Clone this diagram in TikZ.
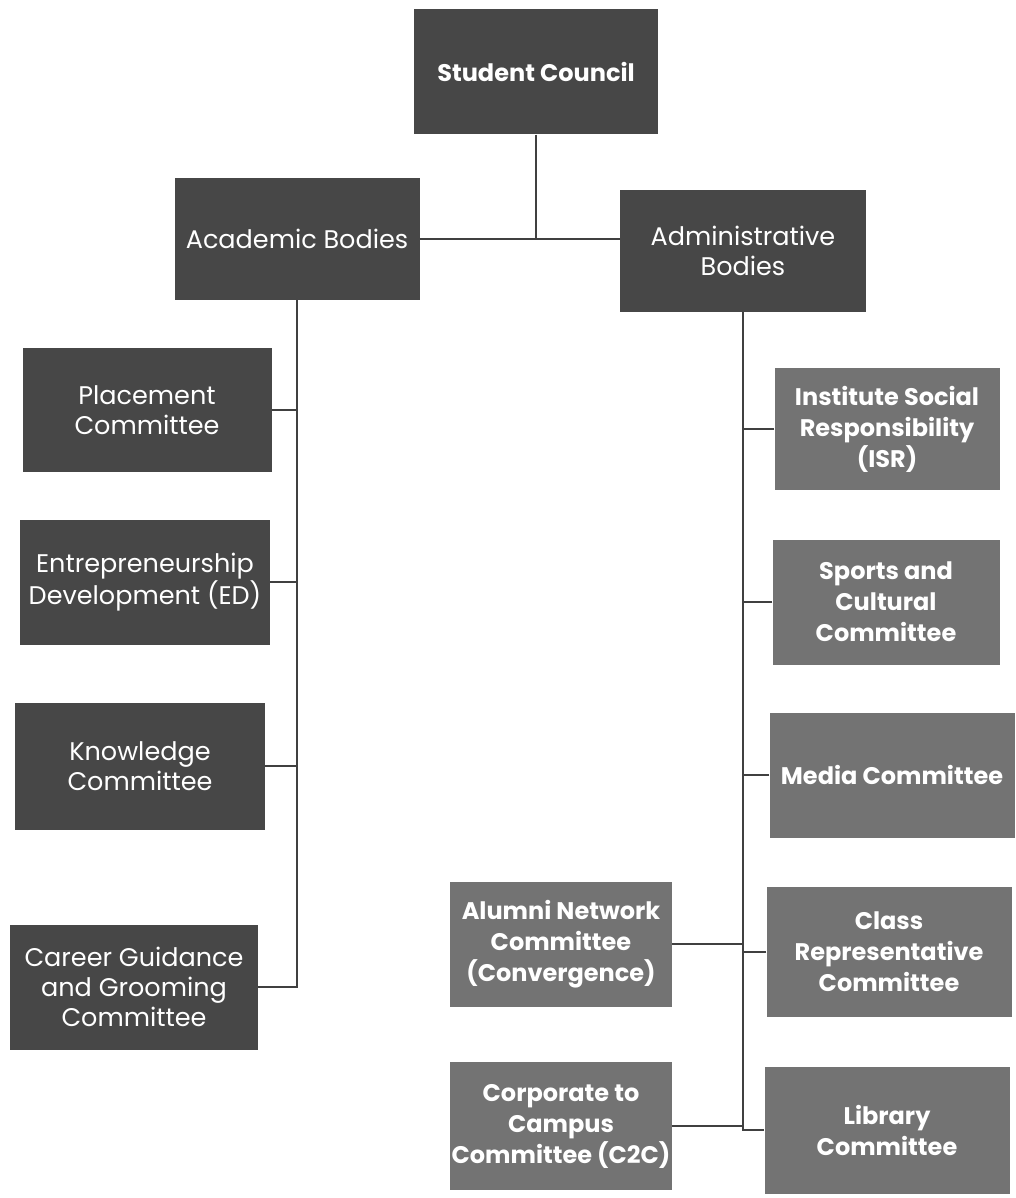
\documentclass[tikz,border=0pt]{standalone}
\usepackage{fontspec}
\setmainfont{Poppins}
\definecolor{darkbox}{HTML}{474747}
\definecolor{midbox}{HTML}{737373}
\tikzset{
  box/.style={rectangle,fill=darkbox,text=white,align=center,inner sep=1pt,
    font=\fontsize{25.5}{30}\selectfont},
  boldbox/.style={box,font=\fontsize{24}{31}\selectfont\bfseries},
  subbox/.style={boldbox,fill=midbox},
  link/.style={draw=black!75,line width=1.3pt}
}
\begin{document}
\begin{tikzpicture}[x=1pt,y=-1pt]
\useasboundingbox (0,0) rectangle (1016,1198);
% top levels
\node (council) at (536,72)[boldbox,minimum width=244pt,minimum height=125pt]{Student Council};
\node (acad) at (297,239)[box,minimum width=245pt,minimum height=122pt]{Academic Bodies};
\node (admin) at (743,251)[box,minimum width=246pt,minimum height=122pt]{Administrative\\Bodies};

% academic side
\node (place) at (147,410)[box,minimum width=249pt,minimum height=124pt]{Placement\\Committee};
\node (entre) at (145,582)[box,minimum width=250pt,minimum height=125pt]{Entrepreneurship\\Development (ED)};
\node (know) at (140,766)[box,minimum width=250pt,minimum height=127pt]{Knowledge\\Committee};
\node (career) at (134,987)[box,minimum width=248pt,minimum height=125pt]{Career Guidance\\and Grooming\\Committee};

% administrative side
\node (isr) at (887,429)[subbox,minimum width=225pt,minimum height=122pt]{Institute Social\\Responsibility\\(ISR)};
\node (sports) at (886,602)[subbox,minimum width=227pt,minimum height=125pt]{Sports and\\Cultural\\Committee};
\node (media) at (892,775)[subbox,minimum width=245pt,minimum height=125pt]{Media Committee};
\node (classrep) at (889,952)[subbox,minimum width=245pt,minimum height=130pt]{Class\\Representative\\Committee};
\node (library) at (887,1130)[subbox,minimum width=245pt,minimum height=127pt]{Library\\Committee};
\node (alumni) at (561,944)[subbox,minimum width=222pt,minimum height=125pt]{Alumni Network\\Committee\\(Convergence)};
\node (corp) at (561,1126)[subbox,minimum width=222pt,minimum height=128pt]{Corporate to\\Campus\\Committee (C2C)};

% connectors
\draw[link](council.south)--(council.south |- acad.east);
\draw[link](acad.east)--(acad.east -| admin.west);
\draw[link](acad.south) |- (career.east);
\draw[link](place.east)--(place.east -| acad.south);
\draw[link](entre.east)--(entre.east -| acad.south);
\draw[link](know.east)--(know.east -| acad.south);
\draw[link](admin.south) |- (library.west);
\draw[link](isr.west)--(isr.west -| admin.south);
\draw[link](sports.west)--(sports.west -| admin.south);
\draw[link](media.west)--(media.west -| admin.south);
\draw[link](classrep.west)--(classrep.west -| admin.south);
\draw[link](alumni.east)--(alumni.east -| admin.south);
\draw[link](corp.east)--(corp.east -| admin.south);
\end{tikzpicture}
\end{document}
